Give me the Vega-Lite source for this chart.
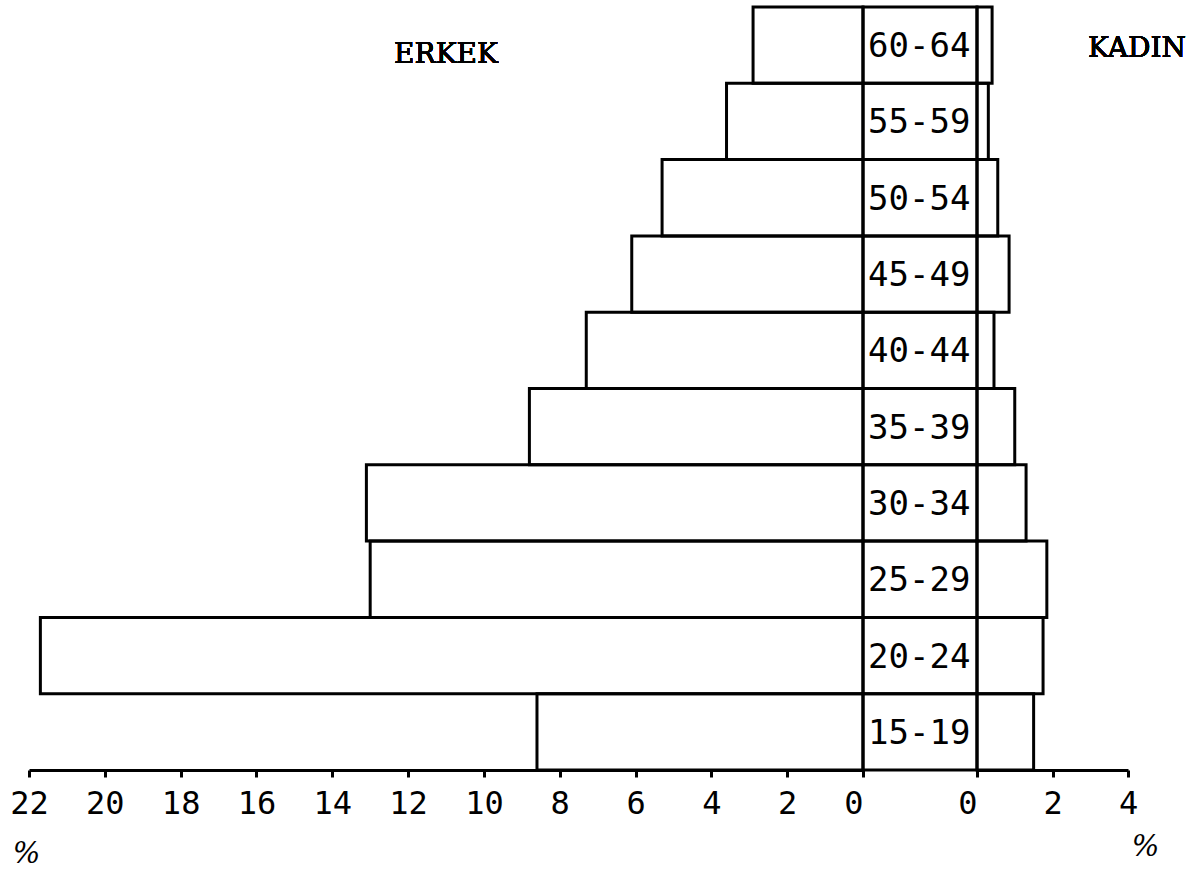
{
  "$schema": "https://vega.github.io/schema/vega-lite/v6.json",
  "background": "white",
  "padding": {"left": 9, "top": 5, "right": 0, "bottom": 0},
  "bounds": "flush",
  "spacing": 0,
  "config": {
    "view": {"stroke": null},
    "concat": {"spacing": 0},
    "axis": {
      "domainColor": "black",
      "domainWidth": 3,
      "tickColor": "black",
      "tickWidth": 3,
      "tickSize": 7,
      "grid": false,
      "labelColor": "black",
      "labelFont": "DejaVu Sans Mono",
      "labelFontSize": 32,
      "labelPadding": 11,
      "labelFlush": false,
      "labelOverlap": false,
      "titleColor": "black",
      "titleFont": "DejaVu Serif",
      "titleFontStyle": "italic",
      "titleFontWeight": "normal",
      "titleFontSize": 29,
      "titleBaseline": "middle",
      "titleAlign": "center",
      "titleAngle": 0
    }
  },
  "datasets": {
    "pyramid": [
      {"age": "60-64", "male": 2.9, "female": 0.4},
      {"age": "55-59", "male": 3.6, "female": 0.3},
      {"age": "50-54", "male": 5.3, "female": 0.55},
      {"age": "45-49", "male": 6.1, "female": 0.85},
      {"age": "40-44", "male": 7.3, "female": 0.45},
      {"age": "35-39", "male": 8.8, "female": 1.0},
      {"age": "30-34", "male": 13.1, "female": 1.3},
      {"age": "25-29", "male": 13.0, "female": 1.85},
      {"age": "20-24", "male": 21.7, "female": 1.75},
      {"age": "15-19", "male": 8.6, "female": 1.5}
    ]
  },
  "hconcat": [
    {
      "width": 834,
      "height": 763,
      "data": {"name": "pyramid"},
      "layer": [
        {
          "mark": {"type": "bar", "fill": "transparent", "stroke": "black", "strokeWidth": 3},
          "encoding": {
            "y": {
              "field": "age", "type": "nominal",
              "sort": ["60-64", "55-59", "50-54", "45-49", "40-44", "35-39", "30-34", "25-29", "20-24", "15-19"],
              "scale": {"paddingInner": 0, "paddingOuter": 0},
              "axis": null
            },
            "x": {
              "field": "male", "type": "quantitative",
              "scale": {"domain": [0, 22], "reverse": true, "nice": false, "zero": true},
              "axis": {
                "values": [0, 2, 4, 6, 8, 10, 12, 14, 16, 18, 20, 22],
                "labelAlign": {"condition": {"test": "datum.value == 0", "value": "right"}, "value": "center"},
                "title": "%",
                "titleX": -3,
                "titleY": 83
              }
            }
          }
        },
        {
          "mark": {"type": "text", "font": "DejaVu Serif", "fontWeight": "normal", "fontSize": 28, "color": "black", "align": "center", "baseline": "middle", "dy": 10},
          "encoding": {
            "x": {"datum": 11.0, "type": "quantitative"},
            "y": {"datum": "60-64", "type": "nominal"},
            "text": {"value": "ERKEK"}
          }
        }
      ]
    },
    {
      "width": 114,
      "height": 763,
      "data": {"name": "pyramid"},
      "layer": [
        {
          "mark": {"type": "bar", "fill": "transparent", "stroke": "black", "strokeWidth": 3},
          "encoding": {
            "y": {
              "field": "age", "type": "nominal",
              "sort": ["60-64", "55-59", "50-54", "45-49", "40-44", "35-39", "30-34", "25-29", "20-24", "15-19"],
              "scale": {"paddingInner": 0, "paddingOuter": 0},
              "axis": null
            },
            "x": {"datum": 0, "type": "quantitative", "scale": {"domain": [0, 1], "nice": false}, "axis": null},
            "x2": {"datum": 1}
          }
        },
        {
          "mark": {"type": "text", "font": "DejaVu Sans Mono", "fontSize": 34, "color": "black", "align": "left", "baseline": "middle", "dy": 2},
          "encoding": {
            "y": {
              "field": "age", "type": "nominal",
              "sort": ["60-64", "55-59", "50-54", "45-49", "40-44", "35-39", "30-34", "25-29", "20-24", "15-19"]
            },
            "x": {"datum": 0.044, "type": "quantitative"},
            "text": {"field": "age"}
          }
        }
      ]
    },
    {
      "width": 151,
      "height": 763,
      "data": {"name": "pyramid"},
      "layer": [
        {
          "mark": {"type": "bar", "fill": "transparent", "stroke": "black", "strokeWidth": 3},
          "encoding": {
            "y": {
              "field": "age", "type": "nominal",
              "sort": ["60-64", "55-59", "50-54", "45-49", "40-44", "35-39", "30-34", "25-29", "20-24", "15-19"],
              "scale": {"paddingInner": 0, "paddingOuter": 0},
              "axis": null
            },
            "x": {
              "field": "female", "type": "quantitative",
              "scale": {"domain": [0, 4], "nice": false, "zero": true},
              "axis": {
                "values": [0, 2, 4],
                "labelAlign": {"condition": {"test": "datum.value == 0", "value": "right"}, "value": "center"},
                "title": "%",
                "titleX": 168,
                "titleY": 76
              }
            }
          }
        },
        {
          "mark": {"type": "text", "font": "DejaVu Serif", "fontWeight": "normal", "fontSize": 28, "color": "black", "align": "center", "baseline": "middle", "dy": 4},
          "encoding": {
            "x": {"datum": 4.24, "type": "quantitative"},
            "y": {"datum": "60-64", "type": "nominal"},
            "text": {"value": "KADIN"}
          }
        }
      ]
    }
  ]
}
